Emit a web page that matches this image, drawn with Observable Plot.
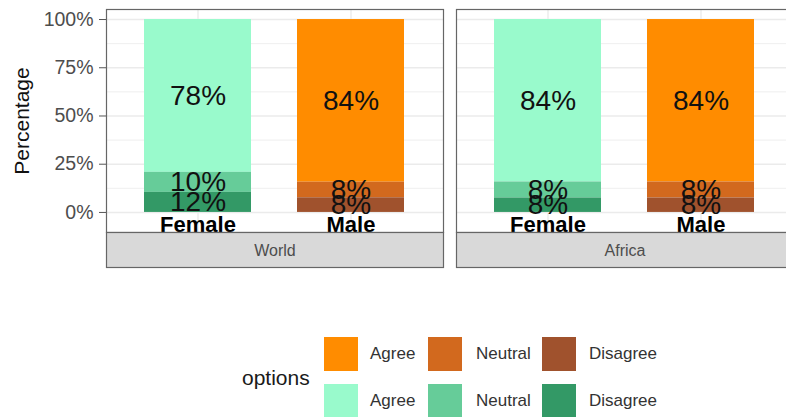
<!DOCTYPE html>
<html>
<head>
<meta charset="utf-8">
<script src="https://cdn.jsdelivr.net/npm/d3@7"></script>
<script src="https://cdn.jsdelivr.net/npm/@observablehq/plot@0.6"></script>
<style>
  html, body { margin: 0; padding: 0; background: #fff; }
  #wrap { position: relative; width: 786px; height: 417px; overflow: hidden; font-family: "Liberation Sans", Arial, sans-serif; }
  #chart { width: 796px; }
  #chart svg { display: block; max-width: none !important; }
  .lg { position: absolute; white-space: nowrap; }
</style>
</head>
<body>
<div id="wrap">
  <div id="chart"></div>
  <div id="legend"></div>
</div>
<script>
// ---- data ----
const regions = ["World", "Africa"];
const genders = ["Female", "Male"];
const options = ["Agree", "Neutral", "Disagree"];
// order of cells: World-Female, World-Male, Africa-Female, Africa-Male
const cellRegion = ["World", "World", "Africa", "Africa"];
const cellGender = ["Female", "Male", "Female", "Male"];
const agreeValues    = [79.2, 84.3, 84.2, 84.2];
const neutralValues  = [10.4, 8.1, 8.3, 8.3];
const disagreeValues = [10.4, 7.6, 7.5, 7.5];
const agreeLabels    = ["78%", "84%", "84%", "84%"];
const neutralLabels  = ["10%", "8%", "8%", "8%"];
const disagreeLabels = ["12%", "8%", "8%", "8%"];
const maleColors   = ["#FF8C00", "#D2691E", "#A0522D"];   // Agree, Neutral, Disagree
const femaleColors = ["#99FACC", "#66CC99", "#339966"];   // Agree, Neutral, Disagree
const majorTicks = [0, 25, 50, 75, 100];
const minorTicks = [12.5, 37.5, 62.5, 87.5];
const yDomain = [-10.4, 105.2];
const legendTitle = "options";
const yLabel = "Percentage";

// ---- build table ----
const seriesValues = {Agree: agreeValues, Neutral: neutralValues, Disagree: disagreeValues};
const seriesLabels = {Agree: agreeLabels, Neutral: neutralLabels, Disagree: disagreeLabels};
const table = [];
cellRegion.forEach((r, i) => {
  options.forEach(o => {
    table.push({region: r, gender: cellGender[i], option: o, value: seriesValues[o][i], label: seriesLabels[o][i]});
  });
});
const cells = cellRegion.map((r, i) => ({region: r, gender: cellGender[i]}));
const stackOrder = ["Disagree", "Neutral", "Agree"];
const colorKeys = [...options.map(o => "Male " + o), ...options.map(o => "Female " + o)];
const colorRange = [...maleColors, ...femaleColors];

// ---- layout ----
const W = 796, H = 272, mTop = 9, mBottom = 40, mLeft = 105, mRight = 2;
const innerH = H - mTop - mBottom;
const stripH = 35;
const font = "Liberation Sans, Arial, sans-serif";

const chart = Plot.plot({
  width: W, height: H,
  marginTop: mTop, marginBottom: mBottom, marginLeft: mLeft, marginRight: mRight,
  style: {fontFamily: font, background: "#fff", maxWidth: "none"},
  fx: {domain: regions, paddingInner: 0.037, paddingOuter: 0, axis: null, label: null},
  x: {domain: genders, paddingInner: 0.3, paddingOuter: 0.247, axis: null},
  y: {domain: yDomain, axis: null},
  color: {domain: colorKeys, range: colorRange},
  marks: [
    Plot.gridY(minorTicks, {stroke: "#EBEBEB", strokeOpacity: 1, strokeWidth: 0.8}),
    Plot.gridY(majorTicks, {stroke: "#EBEBEB", strokeOpacity: 1, strokeWidth: 1.4}),
    Plot.gridX({stroke: "#EBEBEB", strokeOpacity: 1, strokeWidth: 1.4}),
    Plot.barY(table, {fx: "region", x: "gender", y: "value", z: "option", order: stackOrder,
      fill: d => d.gender === "Male" ? "Male " + d.option : "Female " + d.option}),
    Plot.text(table, Plot.stackY({fx: "region", x: "gender", y: "value", z: "option", order: stackOrder,
      text: "label", fontSize: 28, fill: "#111", lineAnchor: "middle"})),
    Plot.text(cells, {fx: "region", x: "gender", text: "gender", frameAnchor: "bottom", lineAnchor: "middle", dy: -8,
      fontSize: 22, fontWeight: "bold", fill: "#000"}),
    Plot.frame({stroke: "#666", strokeWidth: 1.2}),
    Plot.frame({fill: "#D9D9D9", stroke: "#666", strokeWidth: 1.2, insetTop: innerH, insetBottom: -stripH}),
    Plot.text(regions, {fx: d => d, text: d => d, frameAnchor: "bottom", lineAnchor: "middle", dy: 18.5,
      fontSize: 16, fill: "#4D4D4D"}),
    Plot.axisY({ticks: majorTicks, tickFormat: d => d + "%", tickSize: 7, tickPadding: 6, fontSize: 19.5,
      fill: "#4D4D4D", stroke: "#555", label: null}),
    Plot.text([yLabel], {fx: () => "World", text: d => d, frameAnchor: "left", textAnchor: "middle",
      rotate: -90, dx: -84, fontSize: 21, fill: "#111"})
  ]
});
document.getElementById("chart").appendChild(chart);

// ---- legend (HTML) ----
const lg = document.getElementById("legend");
const keyCols = [324, 428, 542], labelCols = [370, 476, 589], rowTops = [337, 384], keySize = 34;
const rows = [maleColors, femaleColors];
const title = document.createElement("div");
title.className = "lg";
title.textContent = legendTitle;
Object.assign(title.style, {left: "242px", top: (rowTops[0] + (rowTops[1] + keySize - rowTops[0]) / 2 - 13) + "px",
  fontSize: "21px", color: "#1a1a1a", lineHeight: "26px"});
lg.appendChild(title);
rows.forEach((cols, r) => {
  options.forEach((o, c) => {
    const k = document.createElement("div");
    k.className = "lg";
    Object.assign(k.style, {left: keyCols[c] + "px", top: rowTops[r] + "px", width: keySize + "px", height: keySize + "px", background: cols[c]});
    lg.appendChild(k);
    const t = document.createElement("div");
    t.className = "lg";
    t.textContent = o;
    Object.assign(t.style, {left: labelCols[c] + "px", top: (rowTops[r] + keySize / 2 - 10) + "px", fontSize: "17px",
      lineHeight: "20px", color: "#333"});
    lg.appendChild(t);
  });
});
</script>
</body>
</html>
